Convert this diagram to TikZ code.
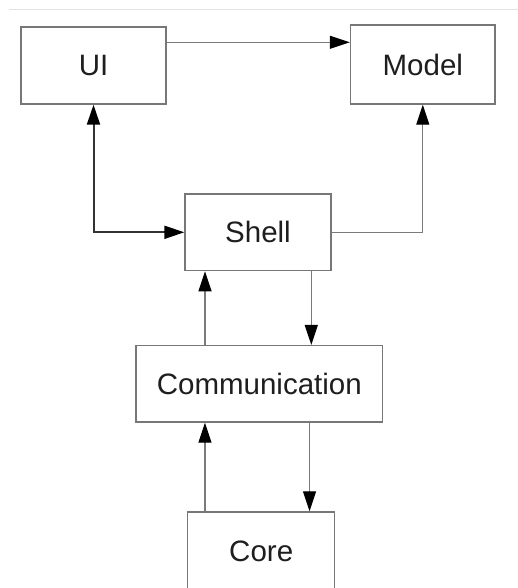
\documentclass[tikz,border=0pt]{standalone}
\usepackage{fontspec}
\setmainfont{Liberation Sans}
\usetikzlibrary{arrows.meta,calc}
\definecolor{boxgray}{HTML}{777777}
\definecolor{linegray}{HTML}{7A7A7A}
\definecolor{darkline}{HTML}{333333}
\definecolor{rulegray}{HTML}{E2E2E2}
\definecolor{txt}{HTML}{1E1E1E}
\begin{document}
\begin{tikzpicture}[x=1pt,y=-1pt,
  block/.style={draw=boxgray, line width=1.4pt, fill=white, inner sep=0pt,
    font=\fontsize{29.5}{34}\selectfont, text=txt},
  conn/.style={draw=linegray, line width=1.2pt,
    -{Triangle[length=20pt,width=13pt,color=black]}},
  bothconn/.style={draw=darkline, line width=2pt,
    {Triangle[length=20pt,width=13pt,color=black]}-{Triangle[length=20pt,width=13pt,color=black]}}]
\useasboundingbox (0,0) rectangle (518,588);
\clip (0,0) rectangle (518,588);

% thin rule along the top
\draw[rulegray, line width=1pt] (9,9.5) -- (518,9.5);

% components
\node[block, minimum width=145pt, minimum height=77pt] (ui) at (93.5,65.5) {UI};
\node[block, minimum width=144.5pt, minimum height=79pt] (model) at (422.8,64.5) {Model};
\node[block, minimum width=146pt, minimum height=76.5pt] (shell) at (258,232.3) {Shell};
\node[block, minimum width=246.7pt, minimum height=76.3pt] (comm) at (259.3,383.8) {Communication};
\node[block, minimum width=147pt, minimum height=79pt] (core) at (261.2,551.5) {Core};

% UI -> Model
\coordinate (uiout) at ($(ui.north east)!0.204!(ui.south east)$);
\draw[conn] (uiout) -- (uiout -| model.west);

% UI <-> Shell
\draw[bothconn] (ui.south) |- (shell.west);

% Shell -> Model
\draw[conn] (shell.east) -| (model.south);

% Shell <-> Communication
\coordinate (sup) at ($(shell.south west)+(20.7,0)$);
\coordinate (sdown) at ($(shell.south west)+(127,0)$);
\draw[conn] (sup |- comm.north) -- (sup);
\draw[conn] (sdown) -- (sdown |- comm.north);

% Communication <-> Core
\coordinate (cup) at ($(comm.south west)+(69.7,0)$);
\coordinate (cdown) at ($(comm.south west)+(174.3,0)$);
\draw[conn] (cup |- core.north) -- (cup);
\draw[conn] (cdown) -- (cdown |- core.north);
\end{tikzpicture}
\end{document}
